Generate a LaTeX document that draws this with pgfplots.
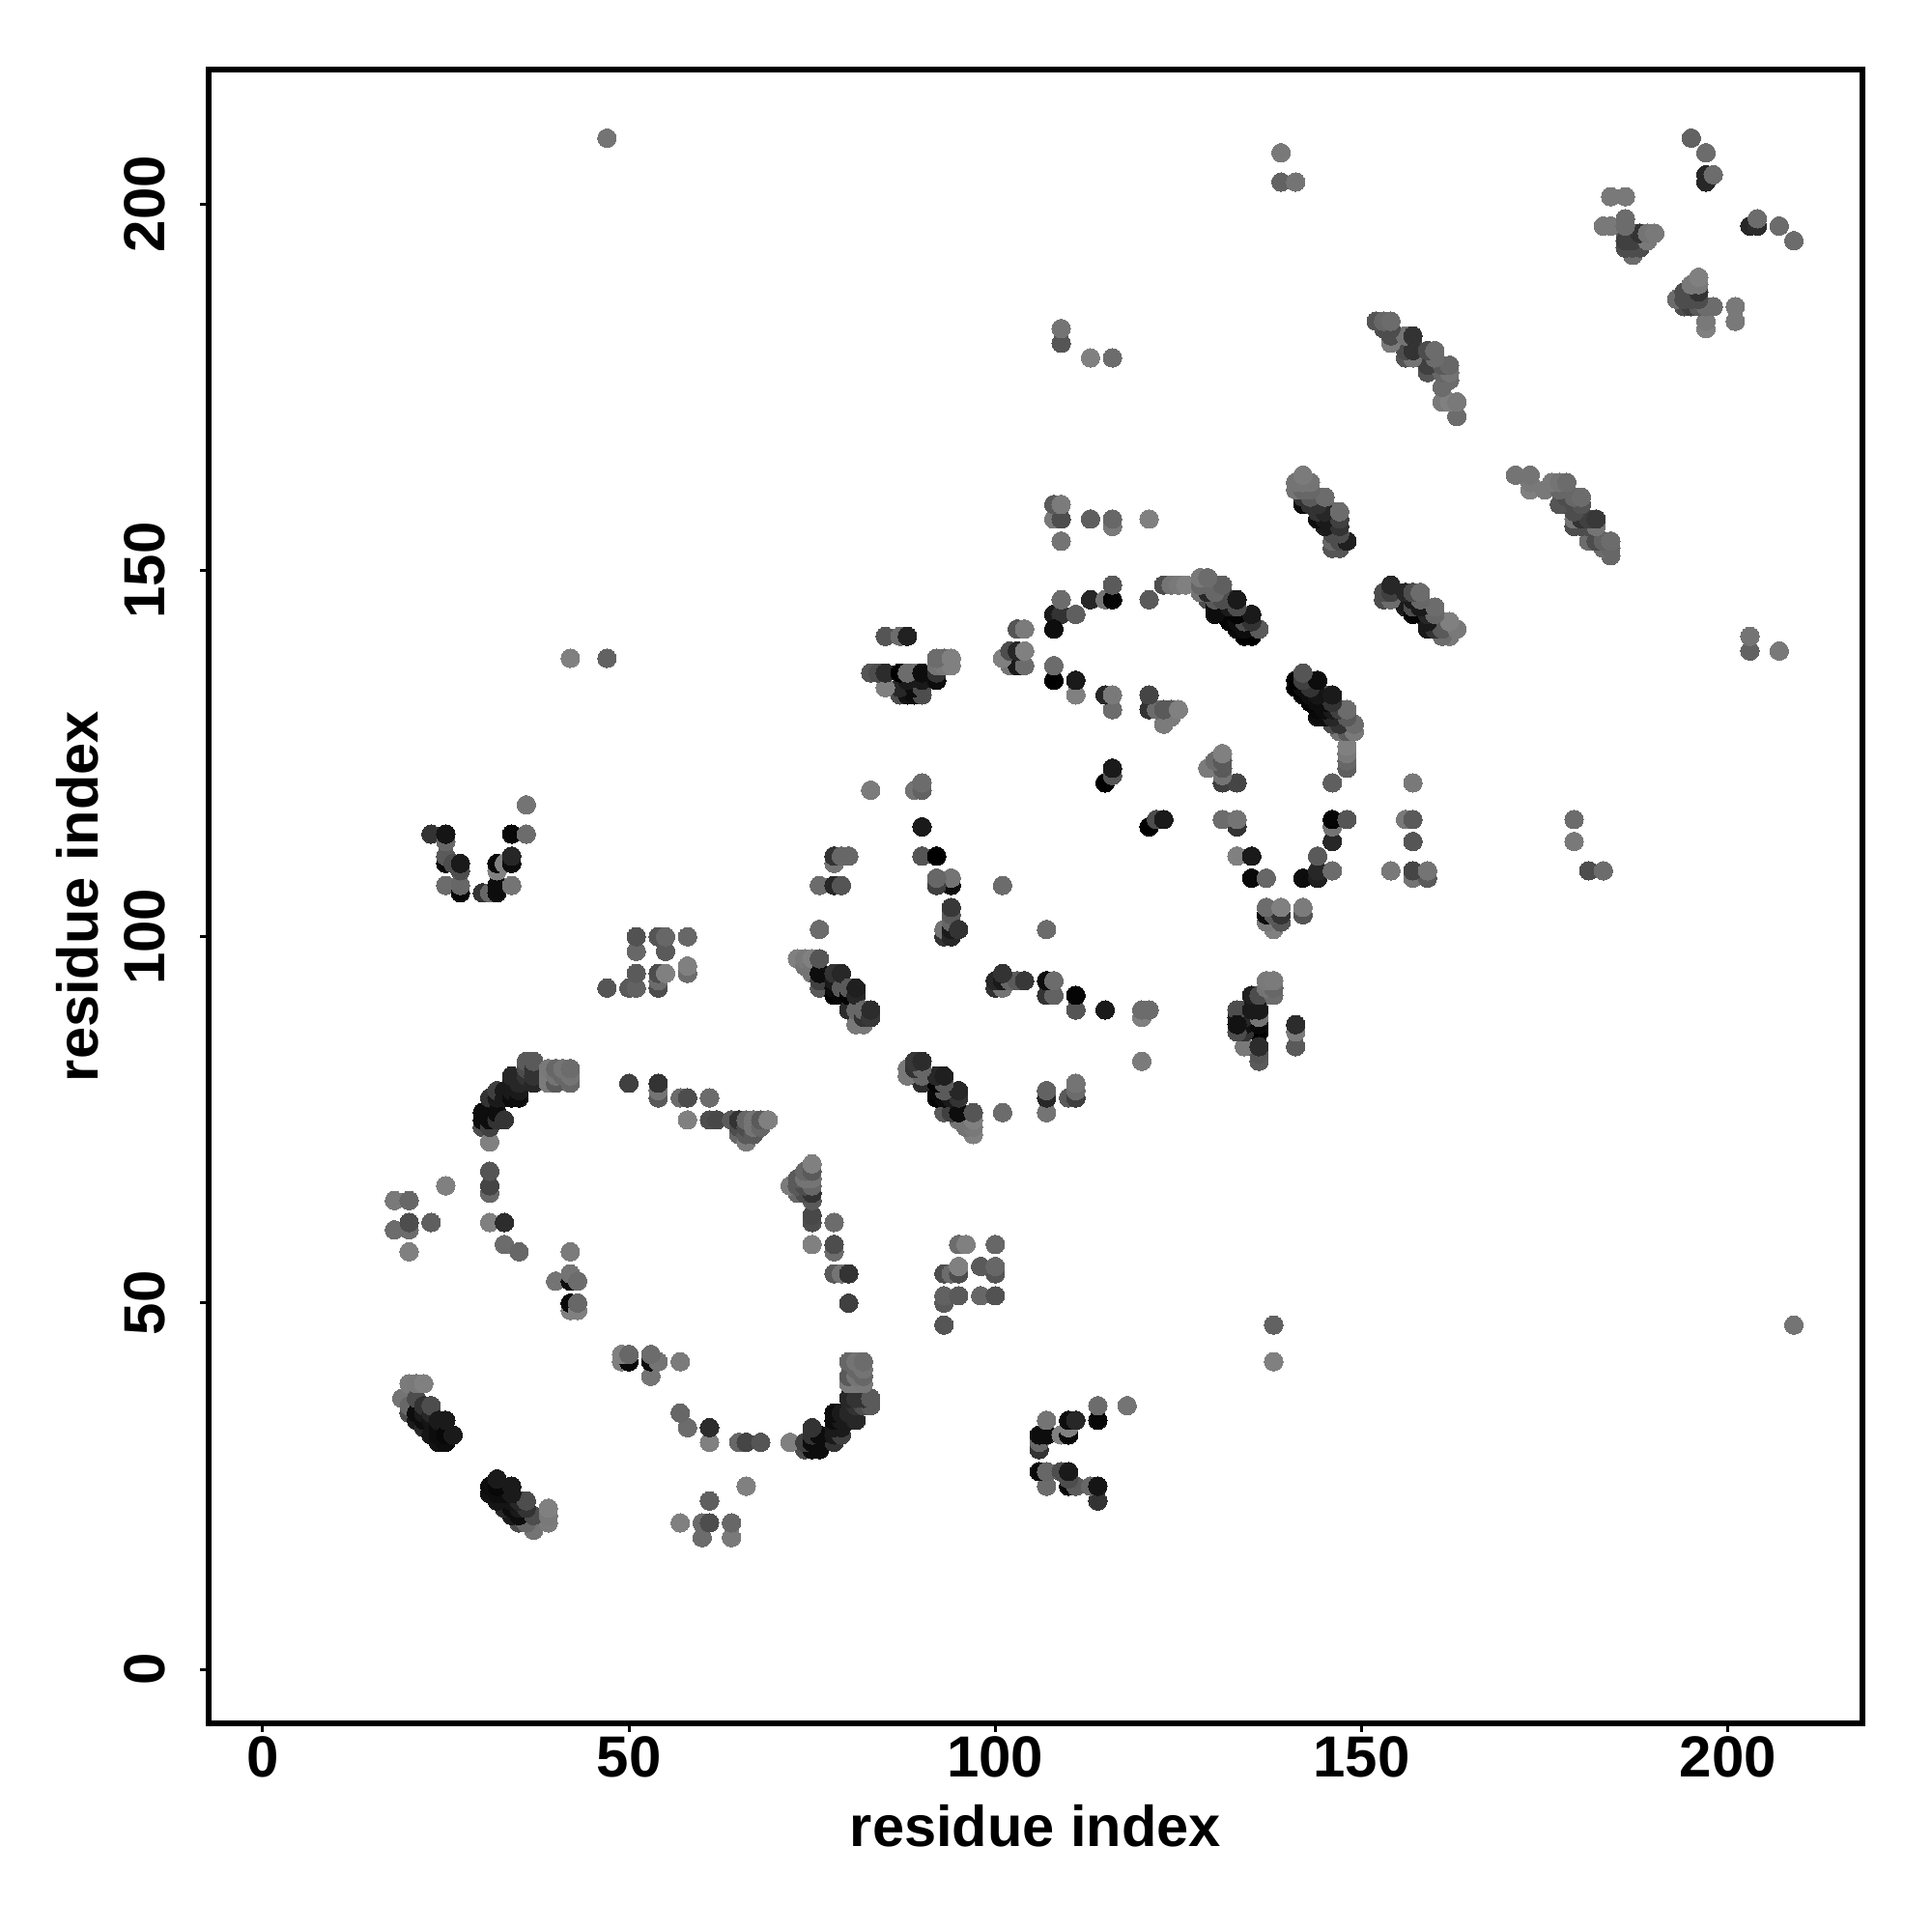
\documentclass[border=0pt]{standalone}
\usepackage{fontspec}
\setmainfont{Liberation Sans}
\usepackage{pgfplots}
\usepackage{pgfplotstable}
\pgfplotsset{compat=1.18}
\pgfplotstableread{
x y g
19 37 .45
20 35 .3
20 36 .4
20 39 .48
21 34 .1
21 35 .05
21 37 .3
21 39 .47
22 33 .15
22 34 .05
22 35 .1
22 36 .2
22 39 .5
23 32 .08
23 34 .08
23 35 .15
23 36 .3
24 31 .07
24 32 .05
24 33 .05
24 34 .1
25 31 .05
25 32 .03
25 34 .1
26 32 .1
18 60 .42
18 64 .47
20 57 .5
20 60 .42
20 61 .3
20 64 .4
23 61 .37
25 66 .5
31 61 .5
31 65 .4
31 66 .27
31 68 .33
33 58 .42
33 61 .17
35 57 .4
40 53 .45
42 49 .5
42 50 .03
42 53 .05
42 54 .45
42 57 .48
43 49 .5
43 50 .4
43 53 .42
30 74 .3
30 75 .05
30 76 .05
31 72 .5
31 74 .25
31 75 .05
31 78 .2
32 75 .2
32 76 .05
32 78 .1
32 79 .25
33 75 .2
33 78 .1
33 79 .1
34 78 .05
34 79 .1
34 80 .1
34 81 .15
35 78 .05
35 79 .1
35 80 .15
36 81 .2
36 82 .3
36 83 .35
37 80 .15
37 81 .2
37 82 .2
37 83 .35
39 80 .48
39 81 .48
39 82 .47
40 80 .35
40 81 .45
40 82 .4
41 81 .4
41 82 .45
42 80 .4
42 81 .45
42 82 .42
50 80 .25
54 78 .35
54 79 .45
54 80 .2
57 78 .42
58 75 .5
58 78 .3
61 75 .3
61 78 .42
62 75 .28
64 75 .35
65 73 .4
65 74 .3
65 75 .2
66 72 .48
66 73 .35
66 74 .3
66 75 .4
67 73 .35
67 74 .45
67 75 .45
68 74 .4
68 75 .35
69 75 .5
47 93 .33
50 93 .35
51 93 .38
51 95 .35
51 98 .4
51 100 .32
54 93 .3
54 94 .42
54 95 .3
54 100 .33
55 95 .5
55 98 .35
55 100 .4
58 95 .42
58 96 .5
58 100 .4
23 114 .2
25 107 .42
25 110 .03
25 111 .35
25 113 .4
25 114 .08
26 110 .3
27 106 .03
27 107 .4
27 109 .3
27 110 .1
30 106 .2
31 106 .4
32 106 .05
32 107 .05
32 109 .5
32 110 .03
33 110 .5
34 107 .45
34 110 .05
34 111 .15
34 114 .03
36 114 .42
36 118 .45
42 138 .5
47 138 .38
47 209 .45
73 97 .5
74 96 .45
74 97 .47
75 95 .45
75 96 .45
75 97 .5
76 93 .35
76 94 .25
76 95 .05
76 97 .33
78 92 .02
78 93 .05
78 94 .1
78 95 .2
79 92 .03
79 93 .35
79 95 .15
80 90 .17
80 92 .02
80 93 .35
81 88 .47
81 90 .4
81 92 .15
81 93 .12
82 88 .47
82 89 .2
82 90 .4
83 89 .22
83 90 .17
76 101 .42
76 107 .45
78 107 .15
79 107 .38
78 110 .35
78 111 .25
79 111 .42
80 111 .45
83 120 .48
89 120 .5
90 120 .42
90 121 .42
90 111 .33
90 115 .1
92 107 .2
92 108 .38
92 111 .02
94 107 .05
94 108 .42
93 100 .2
93 101 .45
94 100 .15
94 101 .1
94 102 .4
94 103 .35
94 104 .22
95 101 .2
101 107 .42
85 141 .35
87 141 .48
88 141 .17
83 136 .35
84 136 .33
85 134 .47
85 136 .17
87 134 .2
88 134 .07
88 136 .03
89 133 .1
89 134 .15
89 136 .45
90 133 .3
90 135 .1
90 136 .1
92 135 .12
92 136 .3
92 138 .42
93 137 .45
93 138 .4
94 137 .47
94 138 .48
101 138 .5
102 137 .47
102 139 .33
103 137 .05
103 138 .35
103 139 .2
103 142 .33
104 137 .42
104 139 .5
104 142 .48
108 135 .03
108 137 .4
108 142 .05
108 144 .12
108 157 .45
108 159 .35
109 144 .15
109 146 .42
109 154 .47
109 157 .27
109 159 .45
109 181 .3
109 183 .42
111 133 .5
111 135 .1
111 144 .35
113 146 .15
113 157 .33
113 179 .47
115 121 .0
115 133 .2
115 146 .45
116 122 .3
116 123 .1
116 131 .42
116 133 .45
116 146 .02
116 148 .33
116 156 .47
116 157 .35
116 179 .42
121 131 .25
121 133 .27
121 146 .37
121 157 .47
122 131 .45
123 129 .48
123 131 .35
124 130 .42
124 131 .35
125 131 .5
121 115 .0
122 116 .33
123 116 .1
129 123 .48
130 124 .48
131 121 .2
131 122 .42
131 123 .35
131 125 .5
133 121 .27
120 89 .45
120 90 .38
121 90 .42
120 83 .48
115 90 .1
111 90 .33
111 92 .0
107 94 .05
108 94 .45
107 92 .25
108 92 .4
107 76 .42
107 78 .15
107 79 .33
110 78 .45
111 78 .2
111 79 .4
111 80 .4
101 76 .42
123 148 .37
124 148 .4
125 148 .47
126 148 .5
128 147 .45
128 148 .35
128 149 .47
129 146 .3
129 147 .2
129 149 .42
130 145 .05
130 146 .15
130 148 .35
131 144 .03
131 145 .05
131 146 .1
131 147 .25
131 148 .42
132 143 .02
132 144 .05
132 145 .05
132 146 .2
133 142 .02
133 143 .05
133 144 .08
133 146 .1
134 141 .0
134 142 .05
134 143 .2
135 141 .0
135 142 .25
135 144 .05
136 142 .33
131 116 .42
133 115 .15
133 116 .47
133 111 .5
135 111 .1
135 108 .0
137 108 .42
87 133 .3
88 133 .07
141 162 .47
141 161 .42
142 159 .1
142 160 .2
142 161 .35
142 163 .47
143 159 .1
143 162 .5
144 157 .02
144 159 .15
144 160 .4
145 157 .3
145 158 .1
145 160 .42
146 153 .3
146 154 .42
146 157 .1
146 158 .4
147 153 .3
147 154 .25
147 156 .15
147 157 .3
147 158 .42
148 154 .15
141 134 .0
141 135 .0
142 133 .03
142 134 .05
142 136 .35
143 132 .02
143 133 .05
143 134 .3
143 135 .2
144 130 .05
144 133 .02
144 135 .1
145 130 .05
145 131 .05
145 132 .1
145 133 .3
146 130 .35
146 131 .3
146 133 .1
147 128 .45
147 129 .15
147 130 .4
148 123 .3
148 124 .45
148 125 .47
148 126 .5
148 128 .4
148 131 .37
149 128 .47
149 129 .42
146 121 .35
146 113 .15
146 115 .45
146 116 .02
148 116 .35
144 108 .1
144 109 .2
144 111 .37
146 109 .42
142 108 .05
154 109 .45
157 108 .47
157 109 .3
159 108 .35
159 109 .48
156 116 .47
157 116 .4
157 113 .37
157 121 .5
137 102 .45
137 103 .1
137 104 .42
138 101 .5
139 102 .3
139 103 .15
139 104 .5
133 89 .05
133 90 .3
134 87 .15
134 85 .5
134 89 .05
134 90 .3
135 88 .1
135 90 .1
135 92 .05
136 83 .33
136 84 .3
136 85 .17
136 87 .0
136 88 .42
136 90 .05
136 92 .2
137 92 .45
137 93 .47
137 94 .5
138 92 .42
138 94 .5
141 85 .33
141 87 .42
141 88 .13
153 146 .33
153 147 .33
154 146 .4
154 147 .3
154 148 .12
155 146 .3
155 147 .3
156 145 .1
156 147 .2
157 144 .05
157 145 .1
157 147 .25
158 144 .2
158 145 .15
158 147 .42
159 142 .05
159 143 .2
159 144 .2
160 142 .2
160 143 .35
160 145 .42
161 141 .45
161 142 .4
161 143 .4
162 141 .45
162 142 .45
162 143 .45
163 142 .48
152 184 .4
153 183 .42
153 184 .4
154 181 .42
154 182 .3
154 183 .38
154 184 .42
156 179 .3
156 180 .3
156 181 .3
156 182 .45
157 179 .45
157 180 .2
157 181 .25
157 182 .22
158 179 .3
159 177 .33
159 179 .3
159 180 .33
160 178 .3
160 179 .4
160 180 .42
161 173 .5
161 175 .47
161 177 .4
162 173 .47
162 176 .47
162 177 .45
162 178 .42
163 171 .45
163 173 .45
171 163 .42
173 161 .47
173 162 .5
173 163 .47
175 161 .42
176 162 .42
177 159 .33
177 161 .4
177 162 .45
178 159 .25
178 161 .35
178 162 .4
179 156 .33
179 157 .45
179 160 .42
180 156 .3
180 157 .2
180 159 .3
180 160 .42
181 154 .48
182 154 .3
182 156 .45
182 157 .2
183 153 .3
183 154 .3
184 152 .33
184 153 .4
184 154 .42
179 113 .5
179 116 .42
181 109 .33
183 109 .45
139 203 .38
139 207 .47
141 203 .45
195 209 .42
197 203 .15
197 204 .17
197 207 .42
198 204 .42
184 201 .47
186 201 .47
183 197 .5
184 197 .47
186 195 .25
186 196 .35
186 197 .42
186 198 .42
187 193 .42
187 194 .3
187 195 .3
187 196 .3
188 194 .3
188 195 .3
188 196 .2
189 195 .47
189 196 .47
190 196 .5
203 197 .15
204 197 .15
204 198 .42
207 197 .42
209 195 .38
193 187 .42
194 186 .3
194 187 .3
194 188 .3
195 186 .25
195 187 .25
195 189 .47
196 188 .2
196 189 .45
196 190 .47
197 183 .47
197 184 .47
197 186 .42
198 186 .42
201 184 .47
201 186 .47
}\pts
\begin{document}
\begin{tikzpicture}
\path[use as bounding box] (-54pt,-54pt) rectangle (446pt,446pt);
\begin{axis}[
  at={(0,0)}, anchor=south west,
  scale only axis, width=428pt, height=428pt,
  xmin=-7.36, xmax=218.36, ymin=-7.36, ymax=218.36,
  xtick={0,50,100,150,200}, ytick={0,50,100,150,200},
  axis line style={line width=1.33pt},
  tick style={black, line width=.75pt},
  tick align=outside, xtick pos=bottom, ytick pos=left,
  major tick length=2.2pt,
  /pgf/number format/assume math mode=true,
  ticklabel style={font=\fontsize{15}{17}\selectfont\bfseries},
  xticklabel style={yshift=2.4pt},
  yticklabel style={rotate=90, anchor=south, yshift=5.6pt},
  xlabel={residue index}, ylabel={residue index},
  every axis x label/.style={at={(rel axis cs:0.5,0)}, anchor=center, yshift=-26.6pt, font=\fontsize{14.9}{17}\selectfont\bfseries},
  every axis y label/.style={at={(rel axis cs:0,0.5)}, rotate=90, anchor=center, yshift=33.9pt, font=\fontsize{14.9}{17}\selectfont\bfseries},
  colormap={g}{gray(0cm)=(0); gray(1cm)=(1)},
  point meta min=0, point meta max=1,
]
\addplot[scatter, only marks, mark=*, mark size=2.4pt, scatter src=explicit,
  scatter/use mapped color={draw=mapped color, fill=mapped color}, mark options={line width=0pt}]
  table[x=x, y=y, meta=g] {\pts};
\addplot[scatter, only marks, mark=*, mark size=2.4pt, scatter src=explicit,
  scatter/use mapped color={draw=mapped color, fill=mapped color}, mark options={line width=0pt}]
  table[x=y, y=x, meta=g] {\pts};
\end{axis}
\end{tikzpicture}
\end{document}
